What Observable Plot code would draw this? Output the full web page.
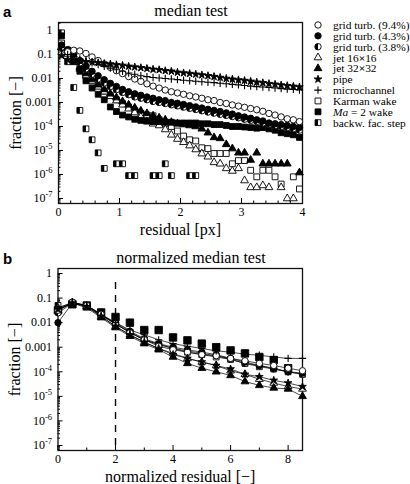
<!DOCTYPE html>
<html><head><meta charset="utf-8">
<script src="https://cdn.jsdelivr.net/npm/d3@7"></script>
<script src="https://cdn.jsdelivr.net/npm/@observablehq/plot@0.6"></script>
<style>
body{margin:0;background:#fff;}
#wrap{position:relative;width:410px;height:484px;overflow:hidden;font-family:"Liberation Serif",serif;}
#wrap svg{position:absolute;left:0;font-family:"Liberation Serif",serif;}
#wrap svg text{font-family:"Liberation Serif",serif;}
#wrap svg text.sans{font-family:"Liberation Sans",sans-serif;}
</style></head><body><div id="wrap"></div>
<script>
// ---------- panel a : median test ----------
const residualPx = [0.05,0.15,0.25,0.35,0.45,0.55,0.65,0.75,0.85,0.95,1.05,1.15,1.25,1.35,1.45,1.55,1.65,1.75,1.85,1.95,2.05,2.15,2.25,2.35,2.45,2.55,2.65,2.75,2.85,2.95,3.05,3.15,3.25,3.35,3.45,3.55,3.65,3.75,3.85,3.95];
const gridTurb94 = [0.1,0.13,0.15,0.14,0.11,0.079,0.056,0.04,0.029,0.021,0.016,0.012,0.0095,0.0076,0.006,0.0048,0.004,0.0033,0.0028,0.0025,0.0022,0.0019,0.0017,0.0015,0.0013,0.0012,0.001,0.00091,0.00079,0.00071,0.00063,0.00056,0.0005,0.00043,0.00035,0.0003,0.00025,0.00021,0.00019,0.00016];
const gridTurb43 = [0.25,0.16,0.1,0.056,0.032,0.02,0.013,0.0089,0.0063,0.0047,0.0035,0.0028,0.0023,0.002,0.0017,0.0015,0.0013,0.0012,0.001,0.00093,0.00083,0.00074,0.00066,0.00059,0.00052,0.00047,0.00042,0.00037,0.00033,0.00028,0.00025,0.00022,0.00019,0.00017,0.00014,0.00013,0.00012,0.00011,0.0001,0.000091];
const gridTurb38 = [0.2,0.13,0.079,0.045,0.025,0.015,0.0095,0.0065,0.0046,0.0034,0.0026,0.0021,0.0017,0.0015,0.0013,0.0011,0.001,0.0009,0.0008,0.00072,0.00064,0.00057,0.00051,0.00045,0.0004,0.00036,0.00032,0.00029,0.00026,0.00023,0.0002,0.00018,0.00016,0.00014,0.000125,0.00011,0.0001,0.00009,0.00008,0.00007];
const jet16 = [0.2,0.1,0.05,0.025,0.013,0.0075,0.0045,0.0028,0.0018,0.0012,0.0008,0.00055,0.00038,0.00025,0.00016,0.00013,0.00011,0.000075,0.000045,0.00003,0.000022,0.000016,0.000011,0.0000074,0.0000055,0.0000032,0.0000028,0.0000018,0.0000014,0.0000018,5.6e-7,2.9e-7,2.9e-7,3.5e-7,2.9e-7,null,2.9e-7,1e-7,1e-7,null];
const jet32 = [0.2,0.12,0.06,0.03,0.016,0.009,0.0055,0.0035,0.0023,0.0016,0.0011,0.0008,0.0006,0.00045,0.00035,0.00028,0.00023,0.00019,0.00015,0.00013,0.00012,0.00011,0.0001,0.00008,0.000055,0.000035,0.000032,0.000018,0.000012,0.000008,0.000008,0.000004,0.000008,0.0000028,0.0000028,0.0000028,0.0000028,0.0000028,null,0.0000012];
const pipe = [0.09,0.06,0.06,0.055,0.05,0.048,0.045,0.042,0.04,0.037,0.035,0.032,0.03,0.028,0.026,0.024,0.023,0.021,0.02,0.018,0.017,0.016,0.015,0.014,0.013,0.012,0.011,0.01,0.0093,0.0087,0.0082,0.0076,0.007,0.0066,0.0061,0.0057,0.0053,0.005,0.0047,0.0044];
const microchannel = [0.15,0.1,0.08,0.065,0.055,0.045,0.038,0.032,0.027,0.023,0.02,0.017,0.015,0.013,0.012,0.011,0.0105,0.01,0.0095,0.009,0.0085,0.008,0.0077,0.0073,0.007,0.0067,0.0063,0.006,0.0057,0.0054,0.0051,0.0048,0.0046,0.0044,0.0042,0.004,0.0038,0.0036,0.0035,0.0033];
const karmanWake = [0.3,0.15,0.06,0.03,0.015,0.008,0.005,0.003,0.002,0.0013,0.0009,0.00065,0.00045,0.00035,0.0003,0.00028,0.00019,0.00013,0.0001,0.000065,0.00004,0.000028,0.000025,0.000013,0.000012,0.0000075,0.0000075,0.0000075,0.0000028,0.0000038,0.0000038,0.0000015,8e-7,0.0000015,0.0000015,8e-7,4e-7,null,8e-7,2.5e-7];
const ma2Wake = [0.6,0.15,0.05,0.02,0.008,0.004,0.0022,0.0013,0.00065,0.00042,0.0003,0.00025,0.0002,0.00018,0.00017,0.00016,0.00016,0.00015,0.00015,0.00014,0.00014,0.00014,0.00014,0.00013,0.00013,0.00012,0.00012,0.00011,0.0001,0.0001,0.000095,0.00009,0.000085,0.00009,0.00008,0.00007,0.000055,0.00005,0.000045,0.000035];
const backwStep = [0.8,0.05,0.0042,0.00047,0.00008,0.000028,0.000008,0.0000018,null,0.0000028,0.0000028,9e-7,9e-7,null,null,9e-7,9e-7,0.0000028,9e-7,null,null,9e-7,9e-7,null,null,null,null,null,null,null,null,null,null,null,null,null,null,null,null,null];

// ---------- panel b : normalized median test ----------
const normResidual = [0,0.5,1,1.5,2,2.5,3,3.5,4,4.5,5,5.5,6,6.5,7,7.5,8,8.5];
const gridTurb94N = [0.032,0.068,0.05,0.022,0.0089,0.004,0.002,0.0011,0.00079,0.00063,0.0005,0.00045,0.00035,0.00028,0.00022,0.00018,0.00014,0.00011];
const gridTurb43N = [0.01,0.063,0.05,0.022,0.01,0.0045,0.0022,0.0014,0.001,0.00079,0.00063,0.0005,0.00035,0.00025,0.00018,0.00014,0.0001,0.000089];
const gridTurb38N = [0.025,0.063,0.05,0.02,0.0089,0.004,0.002,0.0013,0.00089,0.00071,0.00056,0.00045,0.00032,0.00022,0.00018,0.00013,0.0001,0.000079];
const jet16N = [0.04,0.066,0.045,0.018,0.0071,0.0032,0.0016,0.00089,0.00056,0.00035,0.00025,0.00018,0.00011,0.000079,0.00005,0.000035,0.000025,0.00002];
const jet32N = [0.032,0.063,0.04,0.016,0.0063,0.0028,0.0014,0.00079,0.0004,0.00022,0.00014,0.0001,0.000071,0.00004,0.000028,0.000022,0.00002,0.00001];
const pipeN = [0.035,0.063,0.045,0.018,0.0071,0.0032,0.0016,0.00089,0.0005,0.00035,0.00025,0.00018,0.00013,0.000079,0.000063,0.000045,0.000035,0.000025];
const microchannelN = [0.04,0.063,0.05,0.02,0.01,0.005,0.0032,0.002,0.0014,0.0011,0.00089,0.00071,0.00063,0.00052,0.00047,0.0004,0.00035,0.00035];
const karmanWakeN = [0.032,0.063,0.05,0.02,0.0089,0.004,0.002,0.0013,0.00089,0.00063,0.0005,0.0004,0.00032,0.00022,0.00016,0.00013,0.0001,0.000079];
const ma2WakeN = [0.032,0.056,0.05,0.026,0.017,0.01,0.005,0.005,0.0025,0.0019,0.0014,0.001,0.00074,0.00056,0.0004,0.0003,0.00014,null];
const backwStepN = [0.05,0.063,0.045,0.02,0.008,0.004,null,null,null,null,null,null,null,null,null,null,null,null];

const legendLabels = ["grid turb. (9.4%)","grid turb. (4.3%)","grid turb. (3.8%)","jet 16×16","jet 32×32","pipe","microchannel","Karman wake","Ma = 2 wake","backw. fac. step"];
const yTickValues = [1,0.1,0.01,0.001,1e-4,1e-5,1e-6,1e-7];
const yTickLabels = ["1","0.1","0.01","0.001","10^-4","10^-5","10^-6","10^-7"];

// ---------- symbols ----------
const halfCircle = {draw(ctx, size){const r=Math.sqrt(size/Math.PI); ctx.moveTo(0,-r); ctx.arc(0,0,r,-Math.PI/2,Math.PI/2,true); ctx.closePath();}};
const halfSquare = {draw(ctx, size){const h=Math.sqrt(size)/2; ctx.moveTo(-h,-h); ctx.lineTo(0,-h); ctx.lineTo(0,h); ctx.lineTo(-h,h); ctx.closePath();}};
const STYLES = [
  {sym:"circle", fill:"white", r:3.2},
  {sym:"circle", fill:"black", r:3.2},
  {sym:"circle", fill:"white", half:halfCircle, r:3.2},
  {sym:"triangle", fill:"white", r:2.9},
  {sym:"triangle", fill:"black", r:2.9},
  {sym:"star", fill:"black", r:2.4},
  {sym:"plus", fill:"none", r:2.5},
  {sym:"square", fill:"white", r:3.3},
  {sym:"square", fill:"black", r:3.3},
  {sym:"square", fill:"white", half:halfSquare, r:3.3}
];
const seriesA = [gridTurb94,gridTurb43,gridTurb38,jet16,jet32,pipe,microchannel,karmanWake,ma2Wake,backwStep];
const seriesB = [gridTurb94N,gridTurb43N,gridTurb38N,jet16N,jet32N,pipeN,microchannelN,karmanWakeN,ma2WakeN,backwStepN];
const rowsOf = (xs, ys) => xs.map((x,i)=>({x, y: ys[i]})).filter(d => d.y != null);

function dotMarks(rows, st, r) {
  const m = [Plot.dot(rows, {x:"x", y:"y", r, symbol: st.sym, fill: st.fill, stroke: "black", strokeWidth: st.sym === "plus" ? 1.1 : 0.9})];
  if (st.half) m.push(Plot.dot(rows, {x:"x", y:"y", r, symbol: st.half, fill: "black", stroke: "none"}));
  return m;
}
const drawOrder = [9,7,3,4,8,2,1,0,6,5];

function minorLog(dom){const out=[]; for(let e=-9;e<=1;e++) for(let m=2;m<=9;m++){const v=m*Math.pow(10,e); if(v>dom[0]&&v<dom[1]) out.push(v);} return out;}
const fmtY = d => yTickLabels[yTickValues.indexOf(d)] ?? "";
const FONT = "Liberation Serif";

function axes(yDom, xMajor, xMinor, xLabel) {
  return [
    Plot.axisY({ticks: yTickValues, tickSize: -5, tickPadding: 11, tickFormat: fmtY, fontSize: 12, fontFamily: FONT, label: null}),
    Plot.axisY({ticks: minorLog(yDom), tickSize: -2.5, tickFormat: () => "", label: null}),
    Plot.axisY({ticks: [], label: "fraction [−]", labelAnchor: "center", labelOffset: 49, labelArrow: false, fontSize: 16, fontFamily: FONT}),
    Plot.axisX({ticks: xMajor, tickSize: -5, tickPadding: 9, tickFormat: d => String(d), fontSize: 12, fontFamily: FONT, label: null}),
    Plot.axisX({ticks: xMinor, tickSize: -2.5, tickFormat: () => "", label: null}),
    Plot.axisX({ticks: [], label: xLabel, labelAnchor: "center", labelOffset: 31, labelArrow: false, fontSize: 16, fontFamily: FONT}),
    Plot.frame({stroke: "#111", strokeWidth: 1.3})
  ];
}
function superscripts(svg){
  svg.querySelectorAll("text").forEach(t => {
    const m = /^10\^(-?\d+)$/.exec(t.textContent);
    if (!m) return;
    t.textContent = "10";
    const ts = document.createElementNS("http://www.w3.org/2000/svg","tspan");
    ts.setAttribute("dy","-5"); ts.setAttribute("font-size","8.5"); ts.textContent = m[1];
    t.appendChild(ts);
  });
}
const wrap = document.getElementById("wrap");
const style = {fontFamily: "'Liberation Serif', serif", fontSize: "12px", color: "black", background: "transparent", overflow: "visible"};

// panel a
const yDomA = [6.2e-8, 2.15];
const marksA = [];
drawOrder.forEach(i => marksA.push(...dotMarks(rowsOf(residualPx, seriesA[i]), STYLES[i], STYLES[i].r)));
const plotA = Plot.plot({
  width: 310, height: 240, marginLeft: 58, marginRight: 8, marginTop: 22, marginBottom: 37,
  style,
  x: {domain: [0, 4]},
  y: {type: "log", domain: yDomA},
  marks: [...axes(yDomA, [0,1,2,3,4], [0.2,0.4,0.6,0.8,1.2,1.4,1.6,1.8,2.2,2.4,2.6,2.8,3.2,3.4,3.6,3.8], "residual [px]"), ...marksA]
});
plotA.style.top = "0px";
superscripts(plotA);
wrap.appendChild(plotA);

// panel b
const yDomB = [6.25e-8, 1.6];
const marksB = [Plot.ruleX([2], {y1: 1e-7, y2: 0.7, stroke: "black", strokeWidth: 1.4, strokeDasharray: "7,6"})];
drawOrder.forEach(i => { if (i !== 8 && i !== 9) marksB.push(Plot.line(rowsOf(normResidual, seriesB[i]), {x:"x", y:"y", stroke:"black", strokeWidth:0.7})); });
drawOrder.forEach(i => marksB.push(...dotMarks(rowsOf(normResidual, seriesB[i]), STYLES[i], i === 8 ? 4.2 : STYLES[i].r)));
const plotB = Plot.plot({
  width: 310, height: 244, marginLeft: 57.5, marginRight: 8, marginTop: 28, marginBottom: 34,
  style,
  x: {domain: [0, 8.5]},
  y: {type: "log", domain: yDomB},
  marks: [...axes(yDomB, [0,2,4,6,8], [1,3,5,7], "normalized residual [−]"), ...marksB]
});
plotB.style.top = "240px";
superscripts(plotB);
wrap.appendChild(plotB);

// overlay: panel letters, titles, legend
const ov = d3.select(wrap).append("svg").attr("width", 410).attr("height", 484).style("top","0px").style("pointer-events","none");
ov.append("text").attr("class","sans").attr("x",3).attr("y",17).attr("font-weight","bold").attr("font-size",15).text("a");
ov.append("text").attr("class","sans").attr("x",3).attr("y",264).attr("font-weight","bold").attr("font-size",15).text("b");
ov.append("text").attr("x",191).attr("y",16).attr("text-anchor","middle").attr("font-size",16).text("median test");
ov.append("text").attr("x",191).attr("y",263).attr("text-anchor","middle").attr("font-size",16).text("normalized median test");

const legendSym = {circle: d3.symbolCircle, triangle: d3.symbolTriangle, star: d3.symbolStar, plus: d3.symbolPlus, square: d3.symbolSquare};
legendLabels.forEach((lab, i) => {
  const st = STYLES[i];
  const cy = 25 + i * 10.85;
  const size = Math.PI * st.r * st.r;
  const g = ov.append("g").attr("transform", `translate(318,${cy})`);
  g.append("path").attr("d", d3.symbol(legendSym[st.sym], size)()).attr("fill", st.fill).attr("stroke","black").attr("stroke-width", st.sym === "plus" ? 1.1 : 0.9);
  if (st.half) g.append("path").attr("d", d3.symbol(st.half, size)()).attr("fill","black");
  const t = ov.append("text").attr("x",333).attr("y",cy+4).attr("font-size",11.4);
  if (lab.startsWith("Ma")) {
    t.append("tspan").attr("font-style","italic").text("Ma");
    t.append("tspan").text(lab.slice(2));
  } else if (lab.includes("×")) {
    const [a,b] = lab.split("×");
    t.append("tspan").text(a);
    t.append("tspan").attr("font-weight","bold").text("×");
    t.append("tspan").text(b);
  } else t.text(lab);
});
</script>
</body></html>
